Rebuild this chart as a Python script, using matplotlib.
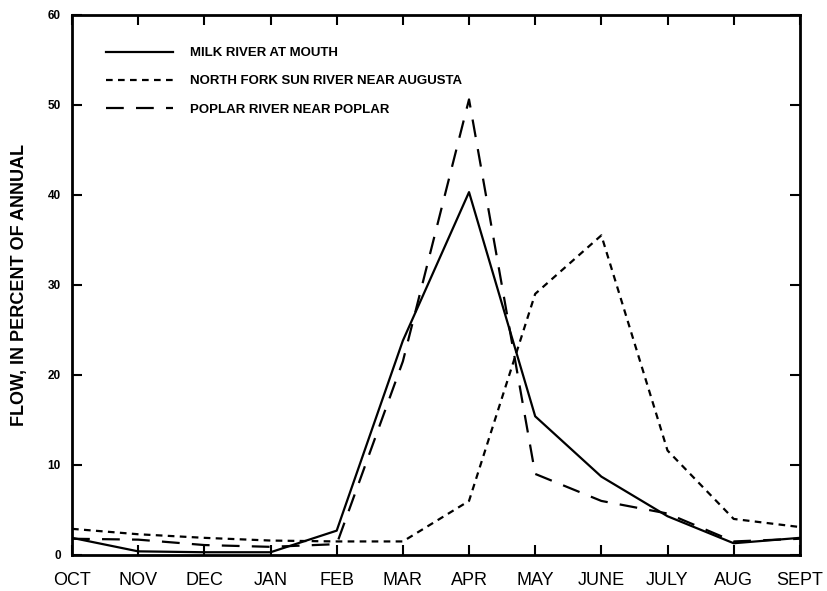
import matplotlib
matplotlib.use("Agg")
import matplotlib.pyplot as plt

months = ["OCT", "NOV", "DEC", "JAN", "FEB", "MAR", "APR", "MAY", "JUNE", "JULY", "AUG", "SEPT"]

milk = [1.9, 0.4, 0.3, 0.3, 2.7, 23.8, 40.3, 15.4, 8.7, 4.3, 1.3, 1.9]
north_fork = [2.9, 2.3, 1.9, 1.6, 1.5, 1.5, 6.0, 29.0, 35.5, 11.6, 4.0, 3.1]
poplar = [1.8, 1.7, 1.1, 0.9, 1.2, 21.5, 50.6, 9.0, 6.0, 4.6, 1.5, 1.8]

plt.rcParams["font.family"] = ["Liberation Sans", "DejaVu Sans"]

fig = plt.figure(figsize=(8.28, 5.91), dpi=100)
ax = fig.add_axes([0.087, 0.061, 0.879, 0.914])

x = list(range(len(months)))
ax.plot(x, milk, color="black", lw=1.6, linestyle="-", label="MILK RIVER AT MOUTH")
ax.plot(x, north_fork, color="black", lw=1.6, linestyle=(0, (3, 2.4)),
        label="NORTH FORK SUN RIVER NEAR AUGUSTA")
ax.plot(x, poplar, color="black", lw=1.6, linestyle=(0, (8, 5.5)),
        label="POPLAR RIVER NEAR POPLAR")

ax.set_xlim(0, 11)
ax.set_ylim(0, 60)
ax.set_xticks(x)
ax.set_xticklabels(months, fontsize=13)
ax.set_yticks(range(0, 61, 10))
ax.set_yticklabels([str(v) for v in range(0, 61, 10)], fontsize=8.5, fontweight="bold")
ax.tick_params(direction="in", length=7, width=1.5, top=True, right=True)
ax.tick_params(axis="x", pad=12)
ax.tick_params(axis="y", pad=8)
for s in ax.spines.values():
    s.set_linewidth(2)

ax.set_ylabel("FLOW, IN PERCENT OF ANNUAL", fontsize=13, fontweight="bold", labelpad=14)

leg = ax.legend(loc="upper left", bbox_to_anchor=(0.03, 0.962), frameon=False,
                handlelength=5.1, handletextpad=1.3, labelspacing=1.2,
                prop={"size": 9.5, "weight": "bold"})

fig.savefig("out.png", dpi=100)
